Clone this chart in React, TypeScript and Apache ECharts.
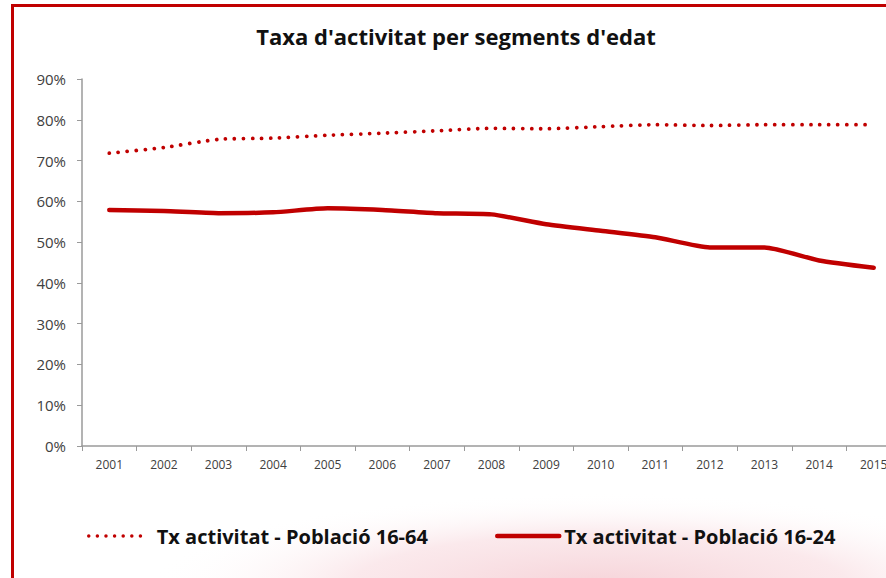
import React, { useEffect, useRef } from "react";
import * as echarts from "echarts";

const years = ["2001","2002","2003","2004","2005","2006","2007","2008","2009","2010","2011","2012","2013","2014","2015"];
const pop1664 = [71.8, 73.2, 75.2, 75.5, 76.2, 76.7, 77.3, 77.9, 77.8, 78.3, 78.8, 78.6, 78.8, 78.8, 78.8];
const pop1624 = [57.9, 57.6, 57.1, 57.3, 58.3, 57.9, 57.1, 56.8, 54.4, 52.8, 51.2, 48.7, 48.7, 45.5, 43.7];
const name1664 = "Tx activitat - Població 16-64";
const name1624 = "Tx activitat - Població 16-24";
const title = "Taxa d'activitat per segments d'edat";

const RED = "#C00000";
const FONT = "'Open Sans', sans-serif";

export default function App() {
  const ref = useRef<HTMLDivElement>(null);
  useEffect(() => {
    if (!ref.current) return;
    const chart = echarts.init(ref.current, undefined, { renderer: "svg" });
    chart.setOption({
      animation: false,
      backgroundColor: "#ffffff",
      title: {
        text: title,
        left: 451,
        textAlign: "center",
        top: 20,
        textStyle: { fontFamily: FONT, fontSize: 22, fontWeight: "bold", color: "#111" },
      },
      graphic: [
        {
          type: "ellipse",
          z: -10,
          silent: true,
          shape: { cx: 600, cy: 585, rx: 450, ry: 92 },
          style: {
            fill: new echarts.graphic.RadialGradient(0.5, 0.5, 0.5, [
              { offset: 0, color: "rgba(230,135,150,0.36)" },
              { offset: 0.55, color: "rgba(236,155,168,0.22)" },
              { offset: 1, color: "rgba(255,255,255,0)" },
            ]),
          },
        },
        {
          type: "rect",
          silent: true,
          shape: { x: 12.5, y: 5.5, width: 900, height: 600 },
          style: { fill: "none", stroke: RED, lineWidth: 3 },
        },
      ],
      legend: [
        {
          data: [name1664],
          left: 87,
          top: 526,
          padding: 0,
          itemWidth: 60,
          itemHeight: 10,
          itemStyle: { opacity: 0 },
          lineStyle: { width: 3.5, type: [0.01, 8.6], cap: "round", color: RED },
          textStyle: { fontFamily: FONT, fontSize: 20, fontWeight: "bold", color: "#111", padding: [0, 0, 0, 3] },
        },
        {
          data: [name1624],
          left: 495,
          top: 526,
          padding: 0,
          itemWidth: 62,
          itemHeight: 10,
          itemStyle: { opacity: 0 },
          lineStyle: { width: 4.5, cap: "round", color: RED },
          textStyle: { fontFamily: FONT, fontSize: 20, fontWeight: "bold", color: "#111" },
        },
      ],
      grid: { left: 82, top: 79, height: 367, width: 819, outerBoundsMode: "none", containLabel: false },
      xAxis: {
        type: "category",
        data: years,
        boundaryGap: true,
        axisLine: { lineStyle: { color: "#9a9a9a", width: 1.5 } },
        axisTick: { show: true, length: 5, alignWithLabel: false, lineStyle: { color: "#9a9a9a" } },
        axisLabel: { fontFamily: FONT, fontSize: 12, color: "#404040", margin: 12, interval: 0, hideOverlap: false },
      },
      yAxis: {
        type: "value",
        min: 0,
        max: 90,
        interval: 10,
        splitLine: { show: false },
        axisLine: { show: true, lineStyle: { color: "#9a9a9a", width: 1.5 } },
        axisTick: { show: true, length: 5, lineStyle: { color: "#9a9a9a" } },
        axisLabel: { fontFamily: FONT, fontSize: 15, color: "#404040", margin: 16, formatter: "{value}%" },
      },
      series: [
        {
          name: name1664,
          type: "line",
          data: pop1664,
          showSymbol: false,
          symbol: "none",
          smooth: 0.2,
          color: RED,
          lineStyle: { color: RED, width: 3.8, type: [0.01, 9], cap: "round" },
        },
        {
          name: name1624,
          type: "line",
          data: pop1624,
          showSymbol: false,
          symbol: "none",
          smooth: 0.2,
          color: RED,
          lineStyle: { color: RED, width: 4.5, cap: "round" },
        },
      ],
    });
    return () => chart.dispose();
  }, []);
  return (
    <div
      ref={ref}
      style={{ position: "absolute", left: 0, top: 0, width: 886, height: 578, overflow: "hidden" }}
    />
  );
}
